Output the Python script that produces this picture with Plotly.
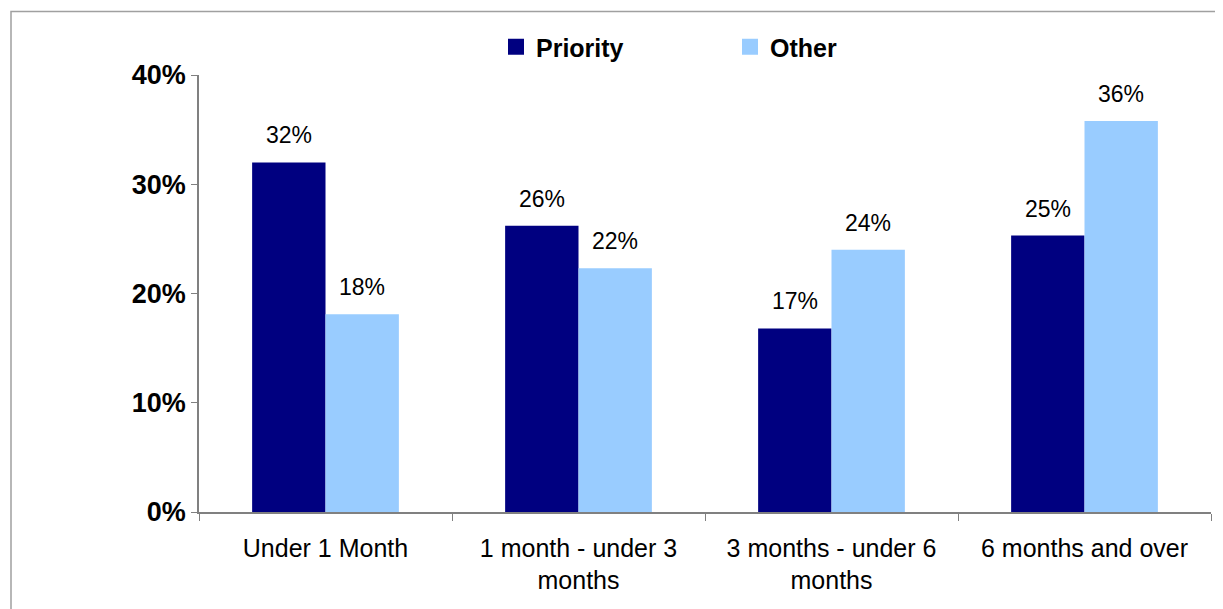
import plotly.graph_objects as go

categories = ["Under 1 Month", "1 month - under 3<br>months", "3 months - under 6<br>months", "6 months and over"]
priority = [32.0, 26.2, 16.8, 25.3]
other = [18.1, 22.3, 24.0, 35.8]
priority_labels = ["32%", "26%", "17%", "25%"]
other_labels = ["18%", "22%", "24%", "36%"]
y_ticks = [0, 10, 20, 30, 40]
y_tick_labels = ["0%", "10%", "20%", "30%", "40%"]

FONT = "Liberation Sans, Arial, sans-serif"
PRIORITY_COLOR = "#000080"
OTHER_COLOR = "#99CCFF"

fig = go.Figure()
fig.add_trace(go.Bar(name="Priority", x=categories, y=priority, showlegend=False,
                     marker=dict(color=PRIORITY_COLOR, line=dict(width=0))))
fig.add_trace(go.Bar(name="Other", x=categories, y=other, showlegend=False,
                     marker=dict(color=OTHER_COLOR, line=dict(width=0))))
# legend entries with larger square swatches
fig.add_trace(go.Scatter(name="Priority", x=[None], y=[None], mode="markers",
                         marker=dict(symbol="square", size=18, color=PRIORITY_COLOR)))
fig.add_trace(go.Scatter(name="Other", x=[None], y=[None], mode="markers",
                         marker=dict(symbol="square", size=18, color=OTHER_COLOR)))

annotations = []
for c, v, t in zip(categories, priority, priority_labels):
    annotations.append(dict(x=c, y=v, text=t, xref="x", yref="y", showarrow=False,
                            xshift=-36.7, yshift=27, font=dict(family=FONT, size=23, color="black")))
for c, v, t in zip(categories, other, other_labels):
    annotations.append(dict(x=c, y=v, text=t, xref="x", yref="y", showarrow=False,
                            xshift=36.7, yshift=27, font=dict(family=FONT, size=23, color="black")))

W, H = 1215, 601
L, R, T, B = 191, 12, 67, 97
PW, PH = W - L - R, H - T - B

fig.update_layout(
    width=W, height=H,
    margin=dict(l=L, r=R, t=T, b=B, autoexpand=False),
    paper_bgcolor="white", plot_bgcolor="white",
    barmode="group", bargap=0.42, bargroupgap=0,
    font=dict(family=FONT, color="black"),
    showlegend=True,
    legend=dict(orientation="h", x=(488 - L) / PW, y=(H - B - 39) / PH, xanchor="left", yanchor="middle",
                font=dict(family=FONT, size=25, color="black", weight="bold"),
                entrywidth=189, entrywidthmode="pixels", itemwidth=30,
                bgcolor="rgba(0,0,0,0)"),
    xaxis=dict(type="category", showline=True, linecolor="#808080", linewidth=1.5,
               ticks="outside", tickson="boundaries", ticklen=7, tickcolor="#808080",
               ticklabelstandoff=13,
               tickfont=dict(family=FONT, size=25, color="black"), showgrid=False,
               range=[-0.5, 3.5]),
    yaxis=dict(range=[0, 40], tickvals=y_ticks, ticktext=y_tick_labels, showline=True,
               linecolor="#808080", linewidth=1.5, ticks="outside", ticklen=6, tickcolor="#808080",
               tickfont=dict(family=FONT, size=27, color="black", weight="bold"),
               showgrid=False, zeroline=False),
    annotations=annotations,
    shapes=[dict(type="rect", xref="paper", yref="paper",
                 x0=(3 - L) / PW, x1=(1214 - L) / PW,
                 y0=-0.4, y1=(H - B - 3.5) / PH,
                 line=dict(color="#A0A0A0", width=1.5), fillcolor="rgba(0,0,0,0)", layer="below")],
)

fig.write_html("out.html")
